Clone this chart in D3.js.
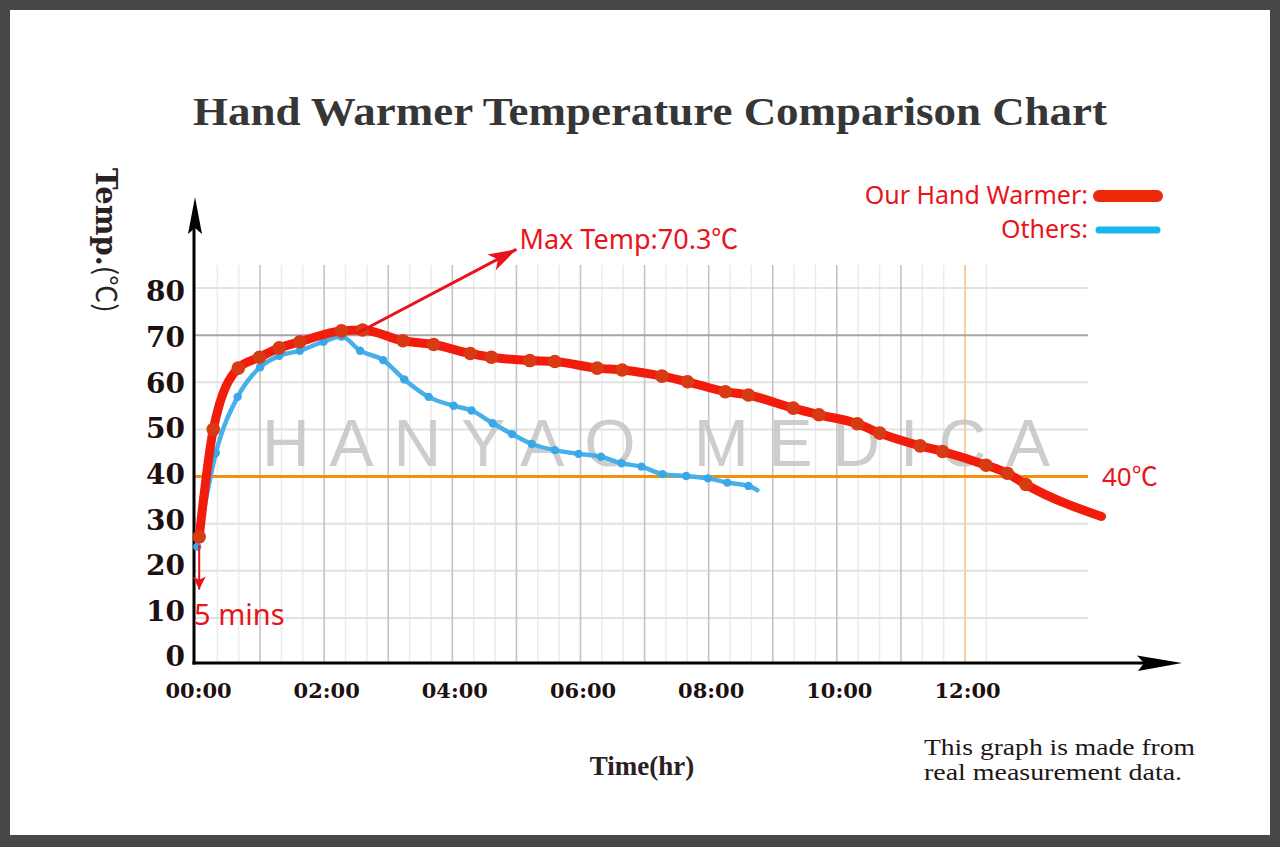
<!DOCTYPE html>
<html><head><meta charset="utf-8">
<script src="https://cdn.jsdelivr.net/npm/d3@7"></script>
<style>html,body{margin:0;padding:0;background:#fff;} svg{display:block;}</style>
</head><body>
<svg id="chart" width="1280" height="847"></svg>
<script>
// ---- data (hours, °C) ----
const ourTime = [0.05,0.27,0.66,0.99,1.30,1.62,2.27,2.60,3.23,3.71,4.28,4.61,5.21,5.60,6.26,6.65,7.27,7.67,8.26,8.62,9.32,9.72,10.32,10.67,11.30,11.65,12.33,12.66,12.95,14.13];
const ourTemp = [27.2,50.0,63.0,65.3,67.3,68.6,70.9,71.1,68.8,68.0,66.1,65.3,64.6,64.4,63.0,62.6,61.3,60.1,58.0,57.3,54.5,53.1,51.2,49.2,46.5,45.3,42.4,40.7,38.3,31.5];
const othersTime = [0.02,0.31,0.65,1.00,1.30,1.62,1.99,2.27,2.56,2.92,3.25,3.63,4.02,4.30,4.63,4.93,5.24,5.60,5.97,6.32,6.64,6.95,7.28,7.65,7.99,8.29,8.62,8.76];
const othersTemp = [25.1,45.0,56.9,63.2,65.6,66.7,68.6,69.7,66.7,64.7,60.6,56.9,55.0,54.0,51.3,49.0,46.9,45.6,44.8,44.2,42.8,42.1,40.5,40.1,39.6,38.7,38.0,37.1];
const yTicks = [0,10,20,30,40,50,60,70,80];
const xTicks = [0,2,4,6,8,10,12];
const xTickLabels = ["00:00","02:00","04:00","06:00","08:00","10:00","12:00"];
const seriesNames = ["Our Hand Warmer:","Others:"];
const thresholdTemp = 40;
const maxTempLabel = "Max Temp:70.3";
const startLabel = "5 mins";

const svg = d3.select("#chart");
// frame
svg.append("rect").attr("width",1280).attr("height",847).attr("fill","#474747");
svg.append("rect").attr("x",10).attr("y",10).attr("width",1260).attr("height",825).attr("fill","#ffffff");

const x = d3.scaleLinear().domain([0,12]).range([196,965]);
const y = d3.scaleLinear().domain([0,80]).range([665,288]);
const yLab = d3.scaleLinear().domain([0,80]).range([657,292]);
const axisX0 = 194, axisY0 = 663, gridRight = 1088, gridTop = 265;
const CJK = "'Noto Sans CJK SC', sans-serif";

// grid
const g = svg.append("g");
const minor = d3.range(0, 38).map(i => i/3).filter(h => Math.abs(h - Math.round(h)) > 0.01);
g.selectAll(".minor").data(minor).join("line")
  .attr("x1",d=>x(d)).attr("x2",d=>x(d)).attr("y1",gridTop).attr("y2",axisY0)
  .attr("stroke","#ebebeb").attr("stroke-width",1.5);
g.selectAll(".hgrid").data(yTicks.filter(d=>d>0 && d!==thresholdTemp && d!==70)).join("line")
  .attr("x1",axisX0).attr("x2",gridRight).attr("y1",d=>y(d)).attr("y2",d=>y(d))
  .attr("stroke","#e2e2e2").attr("stroke-width",2);
g.selectAll(".major").data(d3.range(1,12)).join("line")
  .attr("x1",d=>x(d)).attr("x2",d=>x(d)).attr("y1",gridTop).attr("y2",axisY0)
  .attr("stroke","#c4c4c4").attr("stroke-width",1.6);
g.append("line").attr("x1",x(12)).attr("x2",x(12)).attr("y1",gridTop).attr("y2",axisY0)
  .attr("stroke","#f7cf9e").attr("stroke-width",2);
g.append("line").attr("x1",axisX0).attr("x2",gridRight).attr("y1",y(70)).attr("y2",y(70))
  .attr("stroke","#a6a6a6").attr("stroke-width",2);

// watermark
svg.append("text").attr("x",262).attr("y",466)
  .attr("textLength",788).attr("lengthAdjust","spacing")
  .style("font-family","'Liberation Sans', Arial, sans-serif").style("font-size","66px")
  .attr("fill","#c4c4c4").attr("fill-opacity",0.85).text("HANYAO MEDICA");

// threshold line
svg.append("line").attr("x1",axisX0).attr("x2",gridRight).attr("y1",y(thresholdTemp)).attr("y2",y(thresholdTemp))
  .attr("stroke","#f0900e").attr("stroke-width",3);
const th = svg.append("text").attr("x",1102).attr("y",y(thresholdTemp)+9)
  .style("font-family","'Noto Sans', sans-serif").style("font-size","26px").attr("fill","#e8151a");
th.append("tspan").text(thresholdTemp);
th.append("tspan").style("font-family",CJK).text("℃");

// axes lines with arrows
svg.append("line").attr("x1",axisX0).attr("x2",axisX0).attr("y1",axisY0+1.5).attr("y2",225).attr("stroke","#000").attr("stroke-width",3);
svg.append("path").attr("d",`M${axisX0+1},197 L${axisX0+8},234 L${axisX0+1},228 L${axisX0-6},234 Z`).attr("fill","#000");
svg.append("line").attr("x1",axisX0-1.5).attr("x2",1145).attr("y1",axisY0).attr("y2",axisY0).attr("stroke","#000").attr("stroke-width",3);
svg.append("path").attr("d",`M1182,${axisY0} L1137,${axisY0-7.5} L1144,${axisY0} L1138,${axisY0+8} Z`).attr("fill","#000");

// y tick labels via axis
const yAxis = svg.append("g").attr("transform",`translate(${axisX0},0)`)
  .call(d3.axisLeft(yLab).tickValues(yTicks).tickSize(0).tickPadding(9));
yAxis.select(".domain").remove();
yAxis.selectAll("text").style("font-family","'DejaVu Serif', serif").style("font-weight","bold")
  .style("font-size","28px").attr("fill","#1e1010");

// x tick labels via axis
const xAxis = svg.append("g").attr("transform",`translate(2,${axisY0})`)
  .call(d3.axisBottom(x).tickValues(xTicks).tickFormat((d,i)=>xTickLabels[i]).tickSize(0).tickPadding(20));
xAxis.select(".domain").remove();
xAxis.selectAll("text").style("font-family","'DejaVu Serif', serif").style("font-weight","bold")
  .style("font-size","21px").attr("fill","#1e1010");

// series
const ours = ourTime.map((t,i)=>({t, v: ourTemp[i]}));
const others = othersTime.map((t,i)=>({t, v: othersTemp[i]}));
const line = d3.line().x(d=>x(d.t)).y(d=>y(d.v)).curve(d3.curveMonotoneX);

svg.append("path").datum(others).attr("d",line).attr("fill","none")
  .attr("stroke","#47afea").attr("stroke-width",4.5).attr("stroke-linecap","round").attr("stroke-linejoin","round");
svg.selectAll(".om").data(others.slice(0,-1)).join("circle")
  .attr("cx",d=>x(d.t)).attr("cy",d=>y(d.v)).attr("r",4.2).attr("fill","#3aa7e6");

svg.append("path").datum(ours).attr("d",line).attr("fill","none")
  .attr("stroke","#f21c0c").attr("stroke-width",9).attr("stroke-linecap","round").attr("stroke-linejoin","round");
svg.selectAll(".rm").data(ours.slice(0,-1)).join("circle")
  .attr("cx",d=>x(d.t)).attr("cy",d=>y(d.v)).attr("r",6.8).attr("fill","#d83a13");

// annotation arrows
function arrow(x1,y1,x2,y2,w,len,half,color){
  svg.append("line").attr("x1",x1).attr("y1",y1).attr("x2",x2).attr("y2",y2)
    .attr("stroke",color).attr("stroke-width",w);
  const a = Math.atan2(y2-y1,x2-x1);
  const bx = x2 - len*Math.cos(a), by = y2 - len*Math.sin(a);
  const nx = x2 - len*0.75*Math.cos(a), ny = y2 - len*0.75*Math.sin(a);
  const px = -Math.sin(a)*half, py = Math.cos(a)*half;
  svg.append("path").attr("d",`M${x2},${y2} L${bx+px},${by+py} L${nx},${ny} L${bx-px},${by-py} Z`).attr("fill",color);
}
arrow(x(2.5), y(70.3), x(5.0), y(88.2), 3, 28, 9, "#e8141c");
const mt = svg.append("text").attr("x",x(5.0)+3).attr("y",249)
  .style("font-family","'Noto Sans', sans-serif").style("font-size","27px").attr("fill","#e8141c");
mt.append("tspan").text(maxTempLabel);
mt.append("tspan").style("font-family",CJK).text("℃");

// 5 mins annotation
arrow(x(0.05), y(25.5), x(0.05), y(16), 2, 13, 6.5, "#e8141c");
svg.append("text").attr("x",194).attr("y",625)
  .style("font-family","'Noto Sans', sans-serif").style("font-size","29px").attr("fill","#e8141c")
  .text(startLabel);

// legend
const legColors = ["#ee2a0a","#1cb6ee"], legW = [12,7], legY = [196,230];
seriesNames.forEach((n,i)=>{
  svg.append("text").attr("x",1088).attr("y",legY[i]+8).attr("text-anchor","end")
    .style("font-family","'Noto Sans', sans-serif").style("font-size","25px").attr("fill","#e8141c").text(n);
  svg.append("line").attr("x1",1099).attr("x2",1157).attr("y1",legY[i]).attr("y2",legY[i])
    .attr("stroke",legColors[i]).attr("stroke-width",legW[i]).attr("stroke-linecap","round");
});

// title
svg.append("text").attr("x",193).attr("y",125).attr("textLength",914).attr("lengthAdjust","spacingAndGlyphs")
  .style("font-family","'Liberation Serif', serif").style("font-weight","bold").style("font-size","41px")
  .attr("fill","#363636").text("Hand Warmer Temperature Comparison Chart");

// y axis title (rotated)
const yt = svg.append("text").attr("transform","translate(96,168) rotate(90)")
  .style("font-family","'DejaVu Serif', serif").attr("fill","#2a2222");
yt.append("tspan").style("font-weight","bold").style("font-size","29px").text("Temp.");
yt.append("tspan").style("font-family",CJK).style("font-size","28px").text("(℃)");

// x axis title
svg.append("text").attr("x",642).attr("y",775).attr("text-anchor","middle")
  .style("font-family","'Liberation Serif', serif").style("font-weight","bold").style("font-size","27px")
  .attr("fill","#2a2222").text("Time(hr)");

// note
[["This graph is made from",755],["real measurement data.",780]].forEach(([t,yy])=>{
  svg.append("text").attr("x",924).attr("y",yy).attr("textLength",t.length>22?271:258).attr("lengthAdjust","spacingAndGlyphs")
    .style("font-family","'Liberation Serif', serif").style("font-size","24px").attr("fill","#1e1616").text(t);
});
</script>
</body></html>
